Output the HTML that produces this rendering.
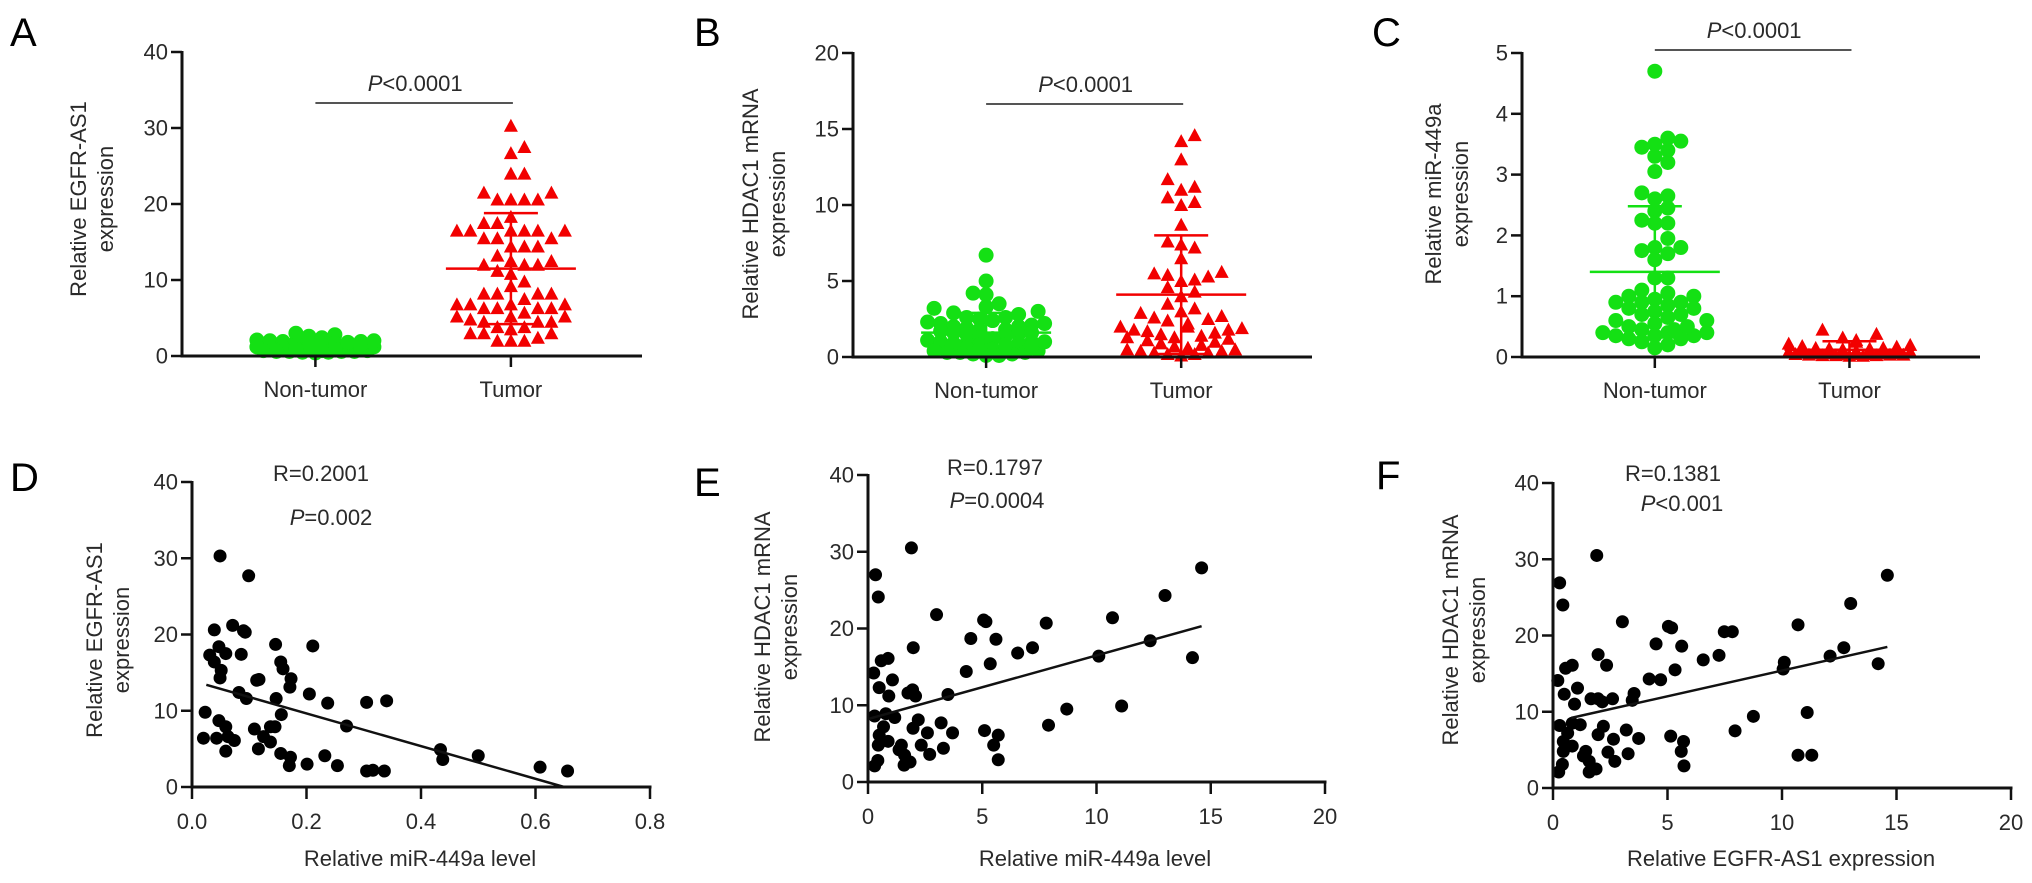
<!DOCTYPE html>
<html><head><meta charset="utf-8"><title>EGFR-AS1 / HDAC1 / miR-449a figure</title>
<style>
html,body{margin:0;padding:0;background:#fff;}
svg{display:block;font-family:"Liberation Sans",Arial,sans-serif;}
</style></head>
<body>
<svg id="fig" width="2032" height="883" viewBox="0 0 2032 883" xmlns="http://www.w3.org/2000/svg"></svg>
<script>
// ---------- DATA ----------
const categories = ["Non-tumor", "Tumor"];
// Panel A: EGFR-AS1 expression
const aNonTumor = [0.6,0.8,1.0,1.2,1.5,1.8,2.0,1.1,0.9,0.7,1.3,1.6,2.2,2.6,3.0,2.8,2.4,1.9,1.4,0.5,0.6,0.8,1.0,1.2,1.5,1.7,0.9,1.1,1.3,0.4,0.7,1.9,2.1,1.6,1.0,0.8,0.6,0.5,1.4,1.2,1.8,0.9,0.7,1.1,1.5,2.0,1.3,1.0,0.8,0.6];
const aTumor = [30.3,27.5,26.7,24,24,21.5,21.5,20.6,20.6,20.6,20.6,18.3,17.5,17.5,16.5,16.5,16.5,16.5,16.5,16.5,15.5,15.5,15.5,14.4,14.4,14.4,13.2,12.5,12.5,12,12,12,11.2,10.8,9.8,9.2,8.2,8.2,8.2,8.2,7.5,6.8,6.8,6.8,6.8,6.3,6.3,6.3,6.3,5.7,5.2,5.2,5.2,4.8,4.5,4.5,4.5,3.8,3.8,3.5,3,3,3,2.4,2,2,2];
const aMean = [1.3, 11.5];
const aSD = [0.7, 7.3];
// Panel B: HDAC1 mRNA expression
const bNonTumor = [6.7,5.0,4.2,4.1,3.5,3.2,3.0,2.8,2.6,2.5,2.4,2.3,2.2,2.2,2.1,2.0,2.0,1.9,1.8,1.8,1.7,1.6,1.5,1.5,1.4,1.3,1.2,1.2,1.1,1.0,1.0,0.9,0.9,0.8,0.8,0.7,0.7,0.6,0.6,0.5,0.5,0.4,0.4,0.3,0.3,0.2,0.2,0.1,0.1,0.9,0.8,0.7,1.0,1.6,2.4,2.6,2.9,3.3,0.5,0.3];
const bTumor = [14.6,14.2,13.0,11.7,11.2,11.0,10.5,10.2,10.0,8.7,7.6,7.4,7.2,6.5,5.6,5.5,5.4,5.3,5.1,5.0,4.6,4.3,4.0,3.5,3.2,3.0,2.9,2.7,2.5,2.4,2.2,2.0,2.0,1.9,1.8,1.7,1.6,1.5,1.4,1.3,1.2,1.1,1.0,0.9,0.8,0.7,0.6,0.5,0.5,0.4,0.4,0.3,0.3,0.2,0.2,0.1,1.8,2.6,1.3,0.6];
const bMean = [1.6, 4.1];
const bSD = [1.3, 3.9];
// Panel C: miR-449a expression
const cNonTumor = [4.7,3.6,3.55,3.5,3.45,3.4,3.3,3.2,3.05,2.7,2.65,2.6,2.45,2.4,2.25,2.2,2.2,1.95,1.8,1.8,1.75,1.7,1.6,1.3,1.3,1.05,1.0,1.0,0.95,0.9,0.9,0.85,0.8,0.8,0.75,0.7,0.65,0.6,0.55,0.5,0.45,0.4,0.4,0.4,0.35,0.35,0.3,0.3,0.25,0.2,0.15,0.6,0.45,0.9,1.1,0.5,0.35,0.7];
const cTumor = [0.45,0.38,0.32,0.28,0.25,0.22,0.2,0.18,0.17,0.15,0.15,0.14,0.13,0.12,0.12,0.11,0.1,0.1,0.1,0.09,0.09,0.08,0.08,0.08,0.07,0.07,0.06,0.06,0.06,0.05,0.05,0.05,0.04,0.04,0.04,0.03,0.03,0.03,0.02,0.02,0.12,0.1,0.08,0.06,0.05,0.14,0.11,0.09,0.07,0.05];
const cMean = [1.4, 0.12];
const cSD = [1.08, 0.14];
// Panel D: miR-449a (x) vs EGFR-AS1 (y)
const dX = [0.049,0.099,0.039,0.071,0.090,0.093,0.146,0.211,0.047,0.031,0.059,0.086,0.039,0.051,0.049,0.155,0.159,0.173,0.171,0.113,0.117,0.082,0.095,0.147,0.205,0.237,0.305,0.34,0.023,0.156,0.047,0.059,0.109,0.137,0.145,0.27,0.02,0.043,0.063,0.074,0.125,0.137,0.116,0.059,0.155,0.172,0.170,0.232,0.201,0.254,0.305,0.316,0.336,0.434,0.438,0.5,0.608,0.656];
const dY = [30.3,27.7,20.6,21.2,20.5,20.3,18.7,18.5,18.4,17.3,17.5,17.4,16.4,15.3,14.3,16.4,15.5,14.2,13.1,14.0,14.1,12.4,11.6,11.6,12.2,11.0,11.1,11.3,9.8,9.5,8.7,7.9,7.6,7.9,7.9,8.0,6.4,6.4,6.6,6.1,6.6,5.9,5.0,4.7,4.4,3.9,2.8,4.1,3.0,2.8,2.1,2.2,2.1,4.9,3.6,4.1,2.6,2.1];
const dFit = [[0.025,13.4],[0.65,0]];
// Panel E: miR-449a (x) vs HDAC1 (y)
const eX = [1.9,0.33,0.45,3.0,5.06,5.16,7.8,10.7,14.6,13.0,4.5,5.6,1.98,7.2,6.55,10.1,12.35,14.2,0.58,0.88,0.25,4.3,5.35,1.07,0.49,1.75,1.95,2.08,3.5,0.91,11.1,8.7,0.29,0.78,1.17,2.2,3.2,1.97,0.68,0.49,0.88,2.6,3.7,5.1,5.7,5.5,7.9,0.45,1.46,1.36,2.33,3.3,2.7,1.6,5.7,0.43,1.84,1.58,0.29];
const eY = [30.5,27.0,24.1,21.8,21.1,20.9,20.7,21.4,27.9,24.3,18.7,18.6,17.5,17.5,16.8,16.4,18.4,16.2,15.8,16.1,14.2,14.4,15.4,13.3,12.3,11.6,12.0,11.2,11.4,11.2,9.9,9.5,8.6,8.9,8.4,8.1,7.7,7.0,7.2,6.1,5.3,6.4,6.4,6.7,6.1,4.8,7.4,4.8,4.8,4.2,4.8,4.4,3.6,3.5,2.9,2.8,2.6,2.2,2.1];
const eFit = [[0,8.2],[14.6,20.3]];
// Panel F: EGFR-AS1 (x) vs HDAC1 (y)
const fX = [1.91,0.29,0.43,3.03,5.04,5.18,7.48,7.83,10.7,14.6,13.0,4.5,5.62,1.97,2.34,7.25,6.56,10.1,10.05,12.1,12.7,14.2,0.55,0.84,0.21,4.2,4.7,5.33,1.07,0.49,1.66,1.97,2.15,2.6,3.54,3.46,0.94,11.1,8.75,7.95,0.29,0.84,1.19,2.2,3.2,1.97,0.64,0.45,0.84,2.64,3.74,5.14,5.7,5.6,0.45,1.43,1.33,2.4,3.28,2.7,1.58,5.72,10.7,11.3,0.41,1.88,1.58,0.25];
const fY = [30.5,26.9,24.0,21.8,21.2,21.0,20.5,20.5,21.4,27.9,24.2,18.9,18.6,17.5,16.1,17.4,16.8,16.5,15.6,17.3,18.4,16.3,15.7,16.1,14.1,14.3,14.2,15.5,13.1,12.3,11.7,11.7,11.3,11.7,12.4,11.5,11.0,9.9,9.4,7.5,8.2,8.5,8.3,8.1,7.6,7.0,7.2,6.1,5.5,6.4,6.5,6.8,6.1,4.8,4.8,4.8,4.2,4.7,4.5,3.5,3.5,2.9,4.3,4.3,3.1,2.5,2.1,2.1];
const fFit = [[0.8,9.2],[14.6,18.5]];

const yTicksA = [0,10,20,30,40];
const yTicksB = [0,5,10,15,20];
const yTicksC = [0,1,2,3,4,5];
const yTicksScatter = [0,10,20,30,40];
const xTicksD = ["0.0","0.2","0.4","0.6","0.8"];
const xTicksEF = [0,5,10,15,20];

// ---------- HELPERS ----------
const NS = "http://www.w3.org/2000/svg";
const svg = document.getElementById("fig");
const GREEN = "#14e014", RED = "#f20000", INK = "#2a2a2a";
function mk(tag, attrs, parent){
  const e = document.createElementNS(NS, tag);
  for (const k in attrs) e.setAttribute(k, attrs[k]);
  (parent || svg).appendChild(e);
  return e;
}
function linScale(d0,d1,r0,r1){ return v => r0 + (v-d0)/(d1-d0)*(r1-r0); }
function txt(parent, x, y, s, size, anchor, extra){
  const t = mk("text", Object.assign({x:x, y:y, "font-size":size, "text-anchor":anchor||"middle", fill:INK}, extra||{}), parent);
  t.textContent = s;
  return t;
}
function panelLetter(parent, x, y, s){
  const t = txt(parent, x, y, s, 40, "start", {fill:"#000"});
  
  
}
function yAxis(parent, x0, ys, ticks, name){
  const g = mk("g", {}, parent);
  
  
  mk("line", {x1:x0, x2:x0, y1:ys(ticks[ticks.length-1])-1, y2:ys(ticks[0])+1.5, stroke:"#111", "stroke-width":3}, g);
  ticks.forEach(v => {
    const y = ys(v);
    mk("line", {x1:x0-11, x2:x0, y1:y, y2:y, stroke:"#111", "stroke-width":2.5}, g);
    const t = txt(g, x0-14, y+7.5, String(v), 22, "end");
    
    
  });
}
function yTitle(parent, cx, cy, l1, l2, name){
  const g = mk("g", {transform:"translate("+cx+","+cy+") rotate(-90)"}, parent);
  
  
  txt(g, 0, -6, l1, 22, "middle");
  txt(g, 0, 21, l2, 22, "middle");
}
function swarm(vals, cx, ys, step, hgt, maxW){
  const placed = [];
  const idx = vals.map((v,i)=>i).sort((a,b)=>vals[a]-vals[b]);
  const cands = [0];
  for (let k=1; k*step<=maxW; k++){ cands.push(k*step, -k*step); }
  const out = new Array(vals.length);
  idx.forEach((i,n) => {
    const y = ys(vals[i]);
    let chosen = null;
    for (const dx of cands){
      if (!placed.some(p => Math.abs(p.x-(cx+dx)) < step*0.9 && Math.abs(p.y-y) < hgt)) { chosen = dx; break; }
    }
    if (chosen === null) chosen = cands[n % cands.length] + ((n%2)?step/2:-step/2);
    const p = {x:cx+chosen, y:y};
    placed.push(p); out[i] = p;
  });
  return out;
}
function tri(parent, x, y, color){
  return mk("path", {d:"M"+(x-7)+","+(y+6)+" L"+(x+7)+","+(y+6)+" L"+x+","+(y-7)+" Z", fill:color}, parent);
}
function meanSd(parent, cx, ys, mean, sd, color, name){
  const g = mk("g", {stroke:color, "stroke-width":2.5}, parent);
  
  
  const lo = Math.max(0, mean - sd);
  mk("line", {x1:cx-65, x2:cx+65, y1:ys(mean), y2:ys(mean)}, g);
  mk("line", {x1:cx, x2:cx, y1:ys(mean+sd), y2:ys(lo)}, g);
  mk("line", {x1:cx-27, x2:cx+27, y1:ys(mean+sd), y2:ys(mean+sd)}, g);
  mk("line", {x1:cx-27, x2:cx+27, y1:ys(lo), y2:ys(lo)}, g);
}
function pLabel(parent, cx, y, rest, name){
  const t = mk("text", {x:cx, y:y, "font-size":22, "text-anchor":"middle", fill:INK}, parent);
  
  
  const a = mk("tspan", {"font-style":"italic"}, t); a.textContent = "P";
  const b = mk("tspan", {}, t); b.textContent = rest;
  return t;
}

// ---------- DOT PLOTS (A, B, C) ----------
function dotPanel(cfg){
  const g = mk("g", {});
  
  
  const ys = linScale(0, cfg.ticks[cfg.ticks.length-1], cfg.yBot, cfg.yTop);
  const xc = [cfg.x0 + 0.29*(cfg.x1-cfg.x0), cfg.x0 + 0.715*(cfg.x1-cfg.x0)];
  panelLetter(g, cfg.lx, cfg.ly, cfg.letter);
  yTitle(g, cfg.tx, cfg.ty, cfg.t1, cfg.t2, "y-axis-title");
  // points
  const gp = mk("g", {fill:GREEN}, g);
  
  
  swarm(cfg.non, xc[0], ys, 13, 11, 62).forEach(p => {
    const c = mk("circle", {cx:p.x, cy:p.y, r:7.5}, gp);
    
    
  });
  const gt = mk("g", {}, g);
  
  
  swarm(cfg.tum, xc[1], ys, 13.5, 11, 62).forEach(p => {
    const t = tri(gt, p.x, p.y, RED);
    
    
  });
  meanSd(g, xc[0], ys, cfg.mean[0], cfg.sd[0], GREEN, "non-tumor-mean-sd");
  meanSd(g, xc[1], ys, cfg.mean[1], cfg.sd[1], RED, "tumor-mean-sd");
  // axes
  yAxis(g, cfg.x0, ys, cfg.ticks, "y-axis");
  const gx = mk("g", {}, g);
  
  
  mk("line", {x1:cfg.x0, x2:cfg.x1, y1:cfg.yBot, y2:cfg.yBot, stroke:"#111", "stroke-width":3}, gx);
  categories.forEach((c,i) => {
    mk("line", {x1:xc[i], x2:xc[i], y1:cfg.yBot, y2:cfg.yBot+11, stroke:"#111", "stroke-width":2.5}, gx);
    const t = txt(gx, xc[i], cfg.yBot+41, c, 22, "middle");
    
    
  });
  // significance
  const sb = mk("line", {x1:xc[0], x2:xc[1]+2, y1:cfg.barY, y2:cfg.barY, stroke:"#555", "stroke-width":2}, g);
  
  
  pLabel(g, (xc[0]+xc[1])/2 + 2, cfg.barY - 12, "<0.0001", "p-value-label");
}
dotPanel({name:"panel-a", letter:"A", lx:10, ly:46, x0:182, x1:642, yTop:52, yBot:356, ticks:yTicksA,
  non:aNonTumor, tum:aTumor, mean:aMean, sd:aSD, tx:92, ty:199, t1:"Relative EGFR-AS1", t2:"expression", barY:103});
dotPanel({name:"panel-b", letter:"B", lx:694, ly:46, x0:853, x1:1312, yTop:53, yBot:357, ticks:yTicksB,
  non:bNonTumor, tum:bTumor, mean:bMean, sd:bSD, tx:764, ty:204, t1:"Relative HDAC1 mRNA", t2:"expression", barY:104});
dotPanel({name:"panel-c", letter:"C", lx:1372, ly:46, x0:1522, x1:1980, yTop:53, yBot:357, ticks:yTicksC,
  non:cNonTumor, tum:cTumor, mean:cMean, sd:cSD, tx:1447, ty:194, t1:"Relative miR-449a", t2:"expression", barY:50});

// ---------- SCATTER PLOTS (D, E, F) ----------
function scatterPanel(cfg){
  const g = mk("g", {});
  
  
  const xs = linScale(0, cfg.xMax, cfg.x0, cfg.x1);
  const ys = linScale(0, 40, cfg.yBot, cfg.yTop);
  panelLetter(g, cfg.lx, cfg.ly, cfg.letter);
  yTitle(g, cfg.tx, cfg.ty, cfg.t1, cfg.t2, "y-axis-title");
  const gd = mk("g", {fill:"#000"}, g);
  
  
  cfg.xv.forEach((xv,i) => {
    const c = mk("circle", {cx:xs(xv), cy:ys(cfg.yv[i]), r:6.5}, gd);
    
    
  });
  const fl = mk("line", {x1:xs(cfg.fit[0][0]), y1:ys(cfg.fit[0][1]), x2:xs(cfg.fit[1][0]), y2:ys(cfg.fit[1][1]), stroke:"#111", "stroke-width":2.5}, g);
  
  
  yAxis(g, cfg.x0, ys, yTicksScatter, "y-axis");
  const gx = mk("g", {}, g);
  
  
  mk("line", {x1:cfg.x0-1.5, x2:cfg.x1+1.5, y1:cfg.yBot, y2:cfg.yBot, stroke:"#111", "stroke-width":3}, gx);
  cfg.xt.forEach(lbl => {
    const x = xs(parseFloat(lbl));
    mk("line", {x1:x, x2:x, y1:cfg.yBot, y2:cfg.yBot+12, stroke:"#111", "stroke-width":2.5}, gx);
    const t = txt(gx, x, cfg.yBot+42, String(lbl), 22, "middle");
    
    
  });
  const xt = txt(g, cfg.xtx, 866, cfg.xTitle, 22, "middle");
  
  
  const r = txt(g, cfg.rx, cfg.ry, cfg.r, 22, "middle");
  
  
  pLabel(g, cfg.px, cfg.py, cfg.p, "p-value-label");
}
scatterPanel({name:"panel-d", letter:"D", lx:10, ly:491, x0:192, x1:650, yTop:482, yBot:787, xMax:0.8, xt:xTicksD,
  xv:dX, yv:dY, fit:dFit, tx:108, ty:640, t1:"Relative EGFR-AS1", t2:"expression", xTitle:"Relative miR-449a level", xtx:420,
  r:"R=0.2001", rx:321, ry:481, p:"=0.002", px:331, py:525});
scatterPanel({name:"panel-e", letter:"E", lx:694, ly:496, x0:868, x1:1325, yTop:475, yBot:782, xMax:20, xt:xTicksEF,
  xv:eX, yv:eY, fit:eFit, tx:776, ty:627, t1:"Relative HDAC1 mRNA", t2:"expression", xTitle:"Relative miR-449a level", xtx:1095,
  r:"R=0.1797", rx:995, ry:475, p:"=0.0004", px:997, py:508});
scatterPanel({name:"panel-f", letter:"F", lx:1376, ly:489, x0:1553, x1:2011, yTop:483, yBot:788, xMax:20, xt:xTicksEF,
  xv:fX, yv:fY, fit:fFit, tx:1464, ty:630, t1:"Relative HDAC1 mRNA", t2:"expression", xTitle:"Relative EGFR-AS1 expression", xtx:1781,
  r:"R=0.1381", rx:1673, ry:481, p:"<0.001", px:1682, py:511});
</script>
</body></html>
